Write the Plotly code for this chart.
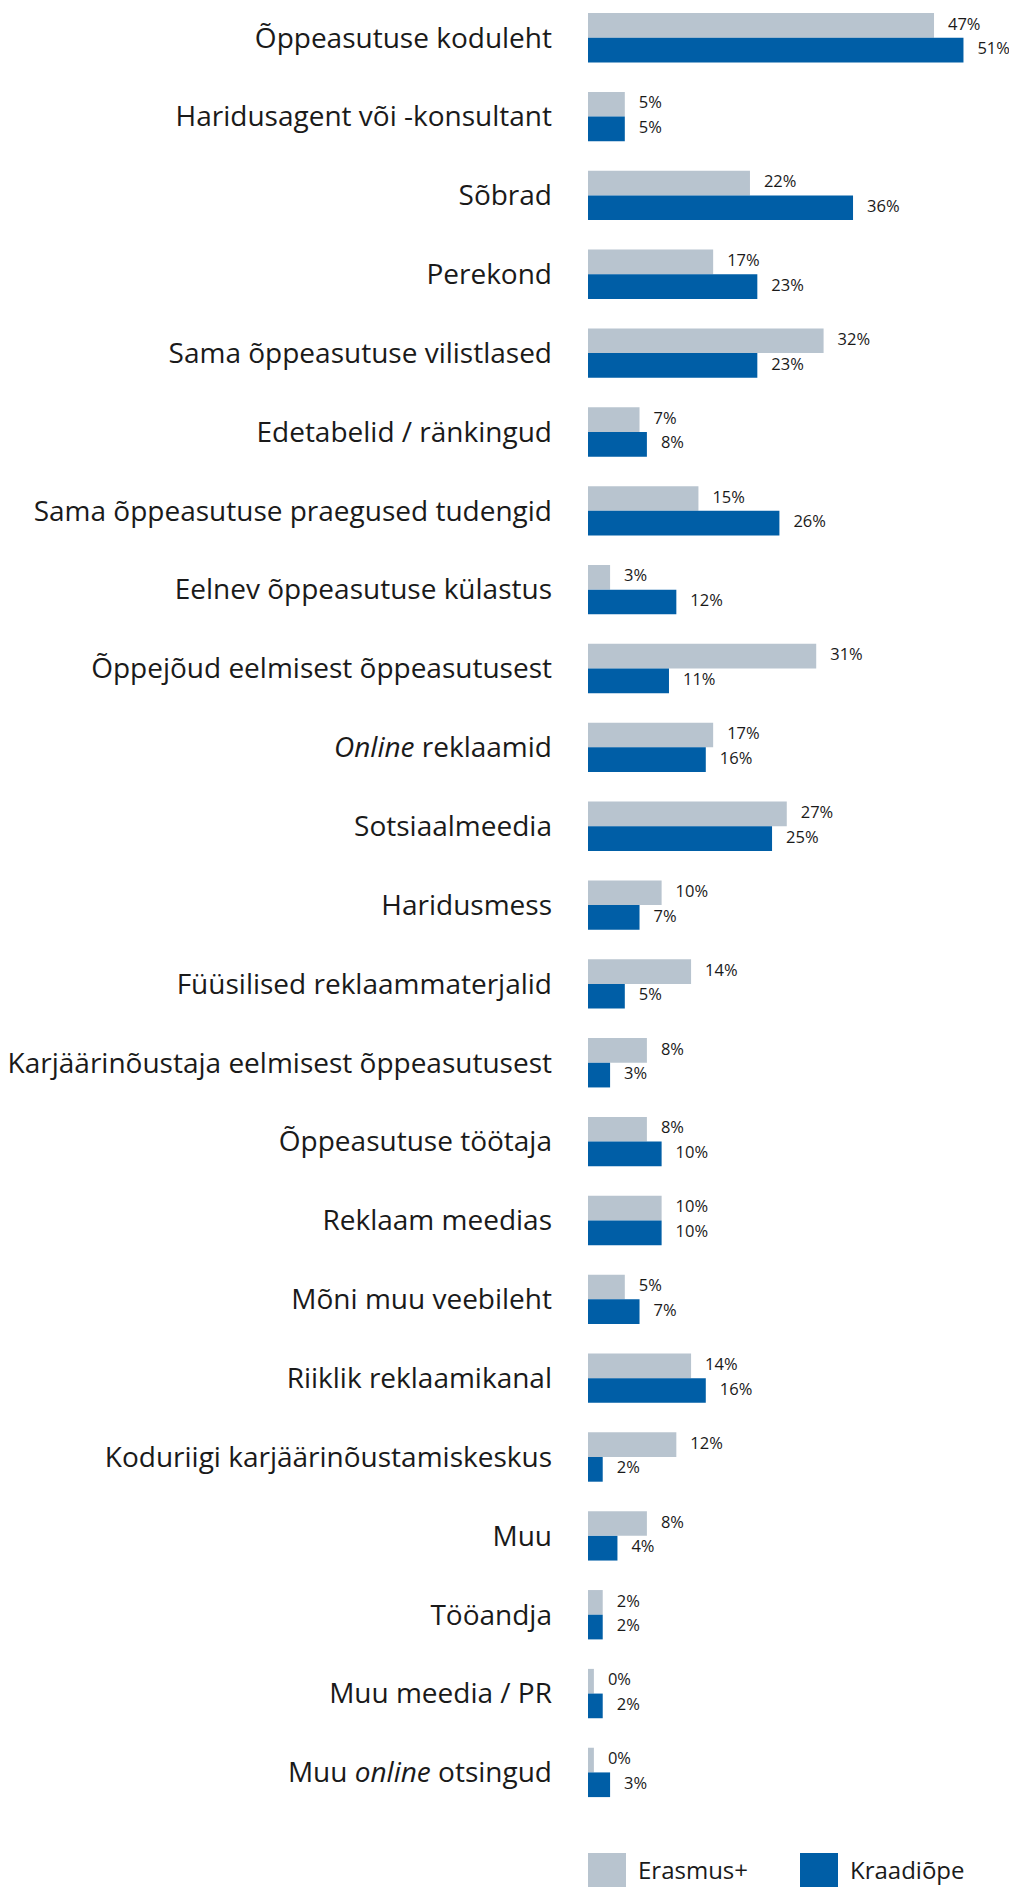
import plotly.graph_objects as go

# Information sources, top to bottom
categories = [
    "Õppeasutuse koduleht",
    "Haridusagent või -konsultant",
    "Sõbrad",
    "Perekond",
    "Sama õppeasutuse vilistlased",
    "Edetabelid / ränkingud",
    "Sama õppeasutuse praegused tudengid",
    "Eelnev õppeasutuse külastus",
    "Õppejõud eelmisest õppeasutusest",
    "<i>Online</i> reklaamid",
    "Sotsiaalmeedia",
    "Haridusmess",
    "Füüsilised reklaammaterjalid",
    "Karjäärinõustaja eelmisest õppeasutusest",
    "Õppeasutuse töötaja",
    "Reklaam meedias",
    "Mõni muu veebileht",
    "Riiklik reklaamikanal",
    "Koduriigi karjäärinõustamiskeskus",
    "Muu",
    "Tööandja",
    "Muu meedia / PR",
    "Muu <i>online</i> otsingud",
]

erasmus = [47, 5, 22, 17, 32, 7, 15, 3, 31, 17, 27, 10, 14, 8, 8, 10, 5, 14, 12, 8, 2, 0, 0]
kraadiope = [51, 5, 36, 23, 23, 8, 26, 12, 11, 16, 25, 7, 5, 3, 10, 10, 7, 16, 2, 4, 2, 2, 3]

GRAY = "#B8C4CF"
BLUE = "#005EA6"
TEXT = "#1a1a1a"
FONT = "Open Sans"

MIN_BAR = 0.8      # 0% still drawn as a thin stub
BAR_W = 0.313
LABEL_GAP = 1.9    # gap between bar end and value label, in %

pos = list(range(len(categories)))

fig = go.Figure()
series = [("Erasmus+", erasmus, GRAY, -BAR_W / 2), ("Kraadiõpe", kraadiope, BLUE, BAR_W / 2)]
for name, vals, color, off in series:
    ys = [p + off for p in pos]
    lengths = [max(v, MIN_BAR) for v in vals]
    fig.add_trace(go.Bar(
        name=name, orientation="h", x=lengths, y=ys, width=BAR_W,
        marker=dict(color=color, line=dict(width=0)), hoverinfo="skip",
    ))
    fig.add_trace(go.Scatter(
        x=[l + LABEL_GAP for l in lengths], y=ys, mode="text",
        text=[f"{v}%" for v in vals], textposition="middle right",
        textfont=dict(family=FONT, size=16.5, color=TEXT),
        cliponaxis=False, hoverinfo="skip",
    ))

# legend drawn by hand (large square swatches)
for px, name, color in [(0, "Erasmus+", GRAY), (212, "Kraadiõpe", BLUE)]:
    fig.add_shape(type="rect", xref="x", xsizemode="pixel", xanchor=0, x0=px, x1=px + 38,
                  yref="paper", ysizemode="pixel", yanchor=0, y0=-41, y1=-80,
                  line=dict(width=0), fillcolor=color)
    fig.add_annotation(text=name, xref="paper", x=0, xshift=px + 48, xanchor="left",
                       yref="paper", y=0, yshift=-57, yanchor="middle", showarrow=False,
                       font=dict(family=FONT, size=24, color=TEXT))

# page body adds an 8px margin, so the figure is 8px smaller on each axis
fig.update_layout(
    width=1009, height=1879,
    margin=dict(l=578, r=2, t=0, b=75),
    plot_bgcolor="white", paper_bgcolor="white",
    showlegend=False,
    font=dict(family=FONT, color=TEXT),
)
fig.update_xaxes(range=[0, 58], visible=False)
fig.update_yaxes(
    range=[22.502, -0.377], tickmode="array", tickvals=pos, ticktext=categories,
    showgrid=False, zeroline=False, showline=False, ticks="",
    ticklabelstandoff=35, tickfont=dict(family=FONT, size=28, color=TEXT),
)

fig.write_html("out.html")
